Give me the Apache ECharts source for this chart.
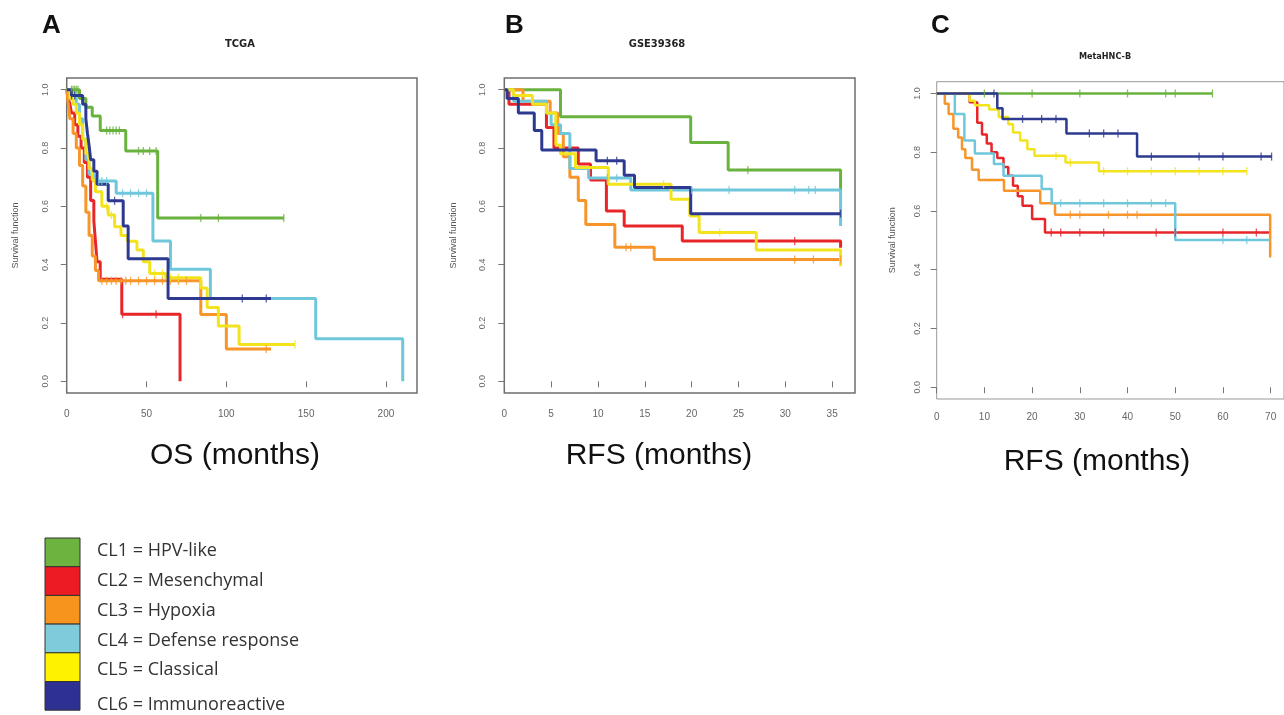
<!DOCTYPE html>
<html><head><meta charset="utf-8">
<script src="https://cdn.jsdelivr.net/npm/echarts@6/dist/echarts.min.js"></script>
<style>html,body{margin:0;padding:0;background:#fff}#c{width:1284px;height:715px}</style>
</head><body><div id="c"></div>
<script>
// ---------- DATA ----------
const clusterLabels = ['CL1 = HPV-like','CL2 = Mesenchymal','CL3 = Hypoxia','CL4 = Defense response','CL5 = Classical','CL6 = Immunoreactive'];
const panelLetters = ['A','B','C'];
const panelTitles = ['TCGA','GSE39368','MetaHNC-B'];
const xTitles = ['OS (months)','RFS (months)','RFS (months)'];
const xTicksA = [0,50,100,150,200];
const xTicksB = [0,5,10,15,20,25,30,35];
const xTicksC = [0,10,20,30,40,50,60,70];
const yTicks = [0,0.2,0.4,0.6,0.8,1.0];

// Panel A (TCGA) : [time, survival] steps
const tcgaCL1 = [[0,1],[8,0.97],[12,0.94],[16,0.91],[21,0.86],[37,0.79],[57,0.56],[136,0.56]];
const tcgaCL2 = [[0,1],[1,0.97],[2,0.95],[3,0.92],[5,0.88],[7,0.84],[9,0.8],[11,0.75],[13,0.7],[15,0.62],[17,0.55],[18,0.48],[19,0.41],[21,0.35],[34.5,0.23],[71,0]];
const tcgaCL3 = [[0,1],[1,0.95],[2,0.9],[4,0.85],[6,0.8],[8,0.74],[10,0.67],[12,0.58],[14,0.5],[16,0.43],[18,0.38],[20,0.345],[84,0.229],[100,0.111],[128,0.111]];
const tcgaCL4 = [[0,1],[3,0.98],[6,0.95],[8,0.9],[10,0.83],[12,0.76],[14,0.71],[17,0.687],[31,0.645],[54,0.481],[65,0.384],[90,0.284],[156,0.146],[210.5,0]];
const tcgaCL5 = [[0,1],[2,0.97],[4,0.95],[6,0.92],[8,0.88],[10,0.83],[12,0.78],[14,0.73],[16,0.69],[18,0.65],[22,0.6],[26,0.57],[30,0.53],[34,0.5],[38,0.48],[44,0.45],[48,0.41],[52,0.37],[62,0.355],[84,0.32],[88,0.253],[95,0.19],[108,0.126],[143,0.126]];
const tcgaCL6 = [[0,1],[3,0.98],[10,0.95],[12,0.9],[13,0.85],[14,0.81],[15,0.76],[17,0.72],[19,0.676],[26,0.619],[35.4,0.533],[38.5,0.42],[63.5,0.284],[128,0.284]];
const tcgaCens = [
  [3,4,5,6,7,25,27,29,31,33,45,48,52,56,84,95,136],
  [35,56],
  [22,25,28,31,34,37,40,45,50,55,60,65,70,75,125],
  [20,22,25,35,40,45,50],
  [25,28,55,60,65,70,143],
  [3,5,30,110,125]
];

// Panel B (GSE39368)
const gseCL1 = [[0,1],[6,0.907],[19.9,0.819],[23.9,0.725],[35.9,0.653]];
const gseCL2 = [[0,1],[0.5,0.95],[4.5,0.87],[5.3,0.8],[7.9,0.745],[9.2,0.69],[10.9,0.584],[12.8,0.533],[19,0.481],[35.9,0.458]];
const gseCL3 = [[0,1],[2,0.96],[4.9,0.92],[5.7,0.85],[6.3,0.77],[7,0.7],[7.9,0.62],[8.7,0.538],[11.8,0.46],[16,0.418],[35.9,0.418]];
const gseCL4 = [[0,1],[1,0.96],[4.5,0.92],[5,0.88],[6,0.85],[7,0.73],[9,0.697],[13.5,0.656],[35.9,0.533]];
const gseCL5 = [[0,1],[1,0.98],[3,0.95],[4.5,0.92],[5.5,0.81],[6,0.78],[7.6,0.733],[11.1,0.676],[17.8,0.624],[19.8,0.567],[20.8,0.51],[26.9,0.45],[35.9,0.395]];
const gseCL6 = [[0,1],[0.3,0.97],[1.5,0.92],[3.2,0.86],[4,0.793],[9.8,0.756],[12.8,0.707],[13.9,0.665],[19.9,0.575],[35.9,0.575]];
const gseCens = [
  [26],
  [31],
  [13,13.5,31,33,35.9],
  [11,12,20,24,31,32.5,33.2],
  [17,23],
  [11,12,35.9]
];

// Panel C (MetaHNC-B)
const metaCL1 = [[0,1],[57.8,1]];
const metaCL2 = [[0,1],[6.9,0.97],[8.5,0.9],[9.5,0.86],[10.5,0.83],[11.5,0.8],[12.7,0.78],[14,0.75],[15,0.72],[16,0.686],[17,0.65],[18,0.618],[20,0.573],[22.7,0.527],[70,0.527]];
const metaCL3 = [[0,1],[1.7,0.965],[2.5,0.93],[3.5,0.88],[4.5,0.85],[5.3,0.81],[6,0.78],[7.4,0.74],[8.8,0.705],[14.1,0.669],[21.7,0.626],[24.8,0.587],[69.9,0.442]];
const metaCL4 = [[0,1],[3.8,0.93],[5.8,0.84],[8,0.796],[12,0.76],[14,0.72],[22,0.675],[24.1,0.626],[50,0.501],[69.9,0.501]];
const metaCL5 = [[0,1],[6.9,0.975],[8,0.96],[11,0.945],[13,0.92],[15,0.895],[16,0.867],[17.5,0.84],[19,0.81],[20.5,0.788],[27,0.765],[34,0.735],[65,0.735]];
const metaCL6 = [[0,1],[12.7,0.95],[13.8,0.913],[27.2,0.864],[42,0.785],[70.2,0.785]];
const metaCens = [
  [10,20,30,40,48,50,57.8],
  [24,26,30,35,46,50,60,67],
  [28,30,36,40,42],
  [26,30,35,40,45,48,60,65],
  [25,28,35,40,45,50,55,60,65],
  [12,18,22,25,32,35,38,45,55,60,68,70.2]
];

const lineColors = ['#6ab23e','#e8262a','#f7952a','#6fc7db','#f2e31c','#2e3a8f'];
const legendColors = ['#6cb43f','#ed1c24','#f7941d','#7fcbdc','#fff200','#2e3192'];

// ---------- BUILD ----------
const panels = [
  {curves:[tcgaCL1,tcgaCL2,tcgaCL3,tcgaCL4,tcgaCL5,tcgaCL6], cens:tcgaCens, xmax:219.44, ticks:xTicksA},
  {curves:[gseCL1,gseCL2,gseCL3,gseCL4,gseCL5,gseCL6], cens:gseCens, xmax:37.44, ticks:xTicksB},
  {curves:[metaCL1,metaCL2,metaCL3,metaCL4,metaCL5,metaCL6], cens:metaCens, xmax:72.8, ticks:xTicksC}
];
const grids = [
  {left:66.7, top:78, width:350.3, height:315, lw:3, nameGap:47, xm:16, ym:17},
  {left:504.3, top:78, width:350.7, height:315, lw:3, nameGap:46, xm:16, ym:17},
  {left:936.7, top:81.7, width:352.6, height:317.3, lw:2.5, nameGap:40, xm:13, ym:15}
];
function survAt(curve, t){ let s = curve[0][1]; for (const p of curve){ if (p[0] <= t) s = p[1]; } return s; }

const drawOrder = [2,1,4,3,5,0];
const option = {
  animation:false,
  backgroundColor:'#fff',
  grid: grids.map((g,i)=>({left:g.left, top:g.top, width:g.width, height:g.height, show:true, borderColor:i===2?'#999':'#6e6e6e', borderWidth:i===2?1:1.5, backgroundColor:'transparent'})),
  xAxis: panels.map((p,i)=>({type:'value', gridIndex:i, min:0, max:p.xmax,
    axisLine:{show:false}, splitLine:{show:false},
    axisTick:{show:true, length:6, lineStyle:{color:'#777'}, customValues:p.ticks},
    axisLabel:{customValues:p.ticks, color:'#666', fontSize:10, margin:grids[i].xm, fontFamily:'Liberation Sans'}})),
  yAxis: panels.map((p,i)=>({type:'value', gridIndex:i, min:-0.04, max:1.04,
    axisLine:{show:false}, splitLine:{show:false},
    axisTick:{show:true, length:6, lineStyle:{color:'#777'}, customValues:yTicks},
    axisLabel:{customValues:yTicks, rotate:90, color:'#666', fontSize:9, margin:grids[i].ym, fontFamily:'Liberation Sans', formatter:v=>v.toFixed(1)},
    name:'Survival function', nameLocation:'middle', nameRotate:90, nameGap:grids[i].nameGap,
    nameTextStyle:{color:'#555', fontSize:9, fontFamily:'Liberation Sans'}})),
  series: []
};
panels.forEach((p,pi)=>{
  drawOrder.forEach(ci=>{
    option.series.push({type:'line', xAxisIndex:pi, yAxisIndex:pi, step:'end', showSymbol:false, symbol:'none',
      data:p.curves[ci], lineStyle:{color:lineColors[ci], width:grids[pi].lw}, z:2+ci});
    option.series.push({type:'scatter', xAxisIndex:pi, yAxisIndex:pi, symbol:'rect', symbolSize:[1.3,8],
      data:p.cens[ci].map(t=>[t, survAt(p.curves[ci], t)]), itemStyle:{color:lineColors[ci]}, z:10+ci, silent:true});
  });
});

const graphics = [];
const letterX = [42, 505, 931];
const titleX = [240, 657, 1105];
const titleY = [44, 44, 57];
const titleSize = [11, 11, 9];
const xTitleX = [235, 659, 1097];
const xTitleY = [456, 456, 462];
panelLetters.forEach((l,i)=>{
  graphics.push({type:'text', left:letterX[i], top:13, style:{text:l, font:'bold 26px "Liberation Sans"', fill:'#111'}});
  graphics.push({type:'text', x:titleX[i], y:titleY[i], style:{text:panelTitles[i], font:'bold '+titleSize[i]+'px "DejaVu Sans Condensed", "Liberation Sans"', fill:'#222', textAlign:'center', textVerticalAlign:'middle'}});
  graphics.push({type:'text', x:xTitleX[i], y:xTitleY[i], style:{text:xTitles[i], font:'30px "Liberation Sans"', fill:'#111', textAlign:'center', textVerticalAlign:'middle'}});
});
clusterLabels.forEach((lab,i)=>{
  graphics.push({type:'rect', shape:{x:45, y:538 + i*28.7, width:35, height:28.7}, style:{fill:legendColors[i], stroke:'#333', lineWidth:1}});
  graphics.push({type:'text', x:97, y:i===5 ? 705 : 551 + i*29.8, style:{text:lab, font:'18px "Open Sans", "Liberation Sans"', fill:'#333', textVerticalAlign:'middle'}});
});
option.graphic = graphics;

const chart = echarts.init(document.getElementById('c'), null, {renderer:'canvas'});
chart.setOption(option);
</script></body></html>
